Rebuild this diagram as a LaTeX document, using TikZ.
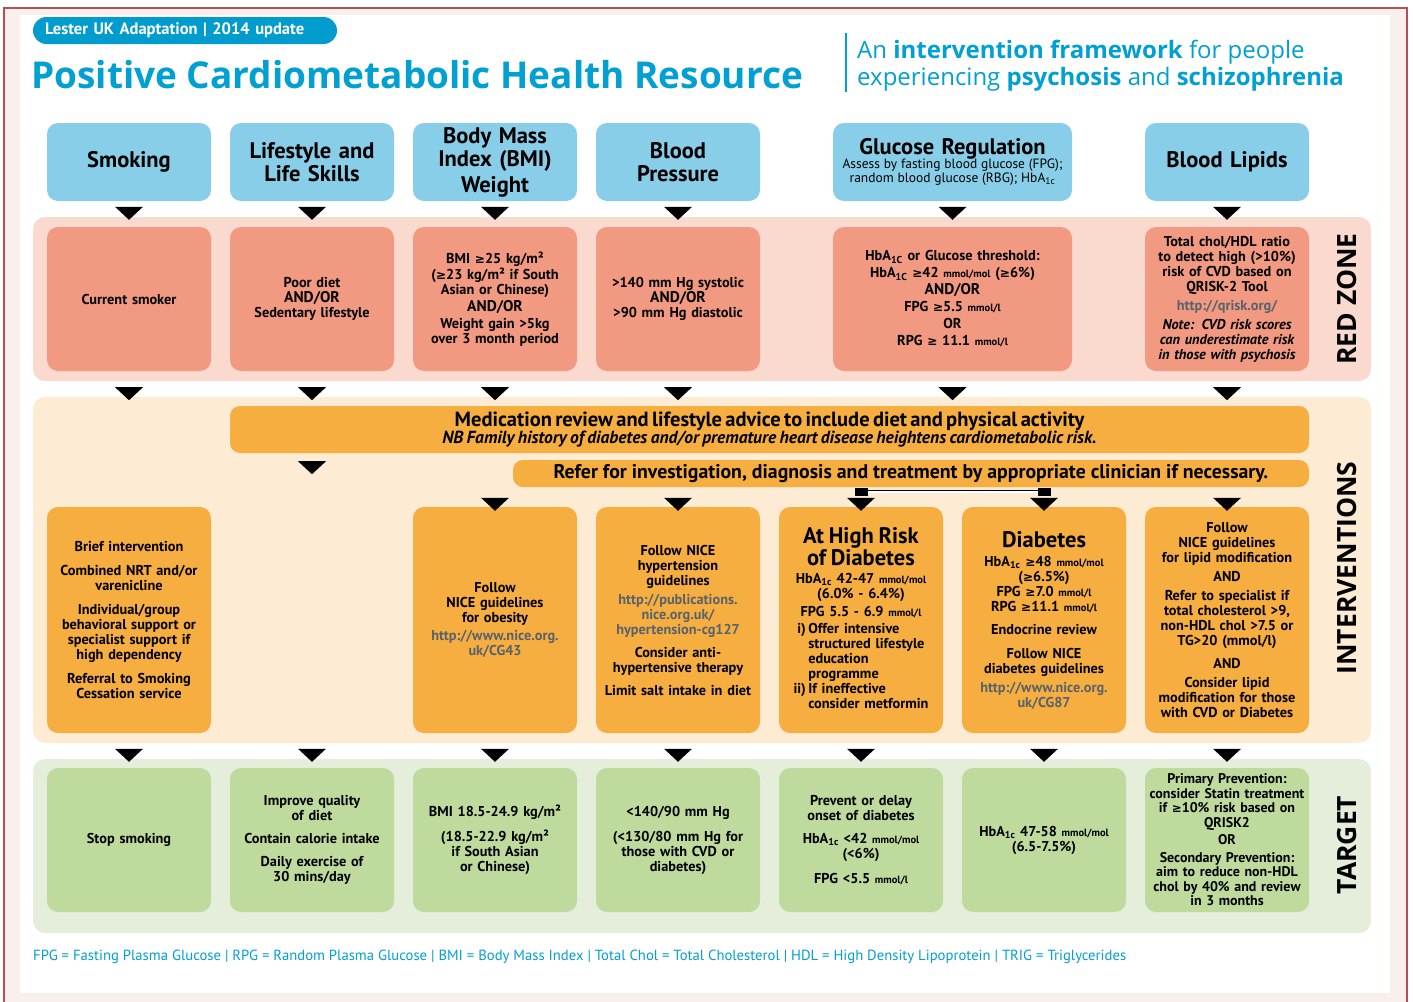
\documentclass[tikz,border=0pt]{standalone}
\usepackage{fontspec}
\setmainfont{PT Sans}
\newfontfamily\titlefont{Open Sans}
\newfontfamily\symfont{DejaVu Sans}
\usetikzlibrary{positioning,calc}

\definecolor{titleblue}{RGB}{0,160,210}
\definecolor{pillblue}{RGB}{0,156,206}
\definecolor{hdblue}{RGB}{136,206,232}
\definecolor{riskband}{RGB}{250,218,206}
\definecolor{riskfill}{RGB}{242,154,129}
\definecolor{actband}{RGB}{253,235,212}
\definecolor{actfill}{RGB}{246,174,64}
\definecolor{goalband}{RGB}{228,238,218}
\definecolor{goalfill}{RGB}{190,219,157}
\definecolor{linkgray}{RGB}{88,98,108}
\definecolor{framered}{RGB}{180,80,85}
\definecolor{framepink}{RGB}{249,239,237}

\newcommand{\hba}[1][1c]{HbA\textsubscript{#1}}
\newcommand{\gte}{{\symfont\scalebox{0.85}{≥}}}
\newcommand{\smu}[1]{{\fontsize{10.5}{11}\selectfont #1}}
\newcommand{\lnk}[1]{{\color{linkgray}#1}}
\newcommand{\andor}{{\fontsize{15.5}{16}\selectfont AND/OR}}
\newcommand{\tri}[1]{\fill (#1) ++(-14,0) -- ++(28,0) -- ++(-14,13) -- cycle;}

\begin{document}
\begin{tikzpicture}[x=1pt,y=-1pt,
    cell/.style={rounded corners=11, minimum width=164, text width=160, inner sep=2,
      align=center, font=\bfseries\fontsize{14.3}{15}\selectfont},
    head/.style={cell, fill=hdblue, minimum height=78, font=\bfseries\fontsize{22.5}{23}\selectfont},
    riskbox/.style={cell, fill=riskfill, minimum height=144},
    actbox/.style={cell, fill=actfill, minimum height=226},
    goalbox/.style={cell, fill=goalfill, minimum height=144},
    bar/.style={fill=actfill, rounded corners=10, inner sep=2, align=center},
    zone/.style={rotate=90, font=\titlefont\bfseries\fontsize{26.5}{26}\selectfont}]
\useasboundingbox (0,0) rectangle (1413,1001);
\fill[white] (0,0) rectangle (1413,1001);
\filldraw[fill=framepink, draw=framered, line width=1.5] (4,8) rectangle (1407,1010);
\fill[white] (20,15) rectangle (1390,993);

\node[fill=pillblue, rounded corners=13.5, minimum width=304, minimum height=27, inner sep=0, text width=280, align=left,
  text=white, font=\bfseries\fontsize{16.5}{17}\selectfont] (tag) at (185,30.5) {Lester UK Adaptation | 2014 update};
\node[anchor=base west, inner sep=0, text=titleblue, font=\titlefont\bfseries\fontsize{37}{37}\selectfont]
  (title) at (31,88) {Positive Cardiometabolic Health Resource};
\draw[titleblue, line width=1.2] (846,33) -- (846,92);
\node[anchor=base west, inner sep=0, text=titleblue, align=left, font=\titlefont\fontsize{24}{27}\selectfont]
  (sub) at (857,85) {An \textbf{intervention framework} for people\\experiencing \textbf{psychosis} and \textbf{schizophrenia}};

\fill[riskband, rounded corners=12] (33,217) rectangle (1371,381);
\fill[actband, rounded corners=12] (33,397) rectangle (1371,743);
\fill[goalband, rounded corners=12] (33,759) rectangle (1371,933);

\node[head] (hSmk) at (129,162) {Smoking};
\node[head] (hLife) at (312,162) {Lifestyle and\\Life Skills};
\node[head] (hBmi) at (495,162) {Body Mass\\Index (BMI)\\[3pt]Weight};
\node[head] (hBp) at (678,162) {Blood\\Pressure};
\node[head, minimum width=239, text width=235] (hGlu) at (952.5,162) {Glucose Regulation\\[-1pt]
  {\mdseries\fontsize{13.5}{14}\selectfont\spaceskip=0.28em\def\arraystretch{0.95}\begin{tabular}{@{}c@{}}Assess by fasting blood glucose (FPG);\\random blood glucose (RBG); \hba\end{tabular}}};
\node[head] (hLip) at (1227,162) {Blood Lipids};

\node[riskbox] (rSmk) at (129,299) {Current smoker};
\node[riskbox] (rLife) at (312,299) {Poor diet\\\andor\\Sedentary lifestyle};
\node[riskbox] (rBmi) at (495,299) {BMI \gte25 kg/m²\\[1pt](\gte23 kg/m² if South\\Asian or Chinese)\\[2pt]\andor\\[2pt]Weight gain >5kg\\over 3 month period};
\node[riskbox] (rBp) at (678,299) {>140 mm Hg systolic\\\andor\\>90 mm Hg diastolic};
\node[riskbox, minimum width=239, text width=235] (rGlu) at (952.5,299) {\hba[1C] or Glucose threshold:\\[2pt]
  \hba[1C] \gte42 \smu{mmol/mol} (\gte6\%)\\[2pt]\andor\\[2pt]FPG \gte5.5 \smu{mmol/l}\\[2pt]OR\\[2pt]RPG \gte{} 11.1 \smu{mmol/l}};
\node[riskbox] (rLip) at (1227,299) {Total chol/HDL ratio\\to detect high (>10\%)\\risk of CVD based on\\QRISK-2 Tool\\[4pt]
  \lnk{http://qrisk.org/}\\[4pt]{\itshape Note: CVD risk scores\\can underestimate risk\\in those with psychosis}};

\node[bar, minimum width=1079, minimum height=47, text width=1075] (adv) at (769.5,429.5)
  {\bfseries\fontsize{20.5}{20}\selectfont Medication review and lifestyle advice to include diet and physical activity\\
  {\itshape\fontsize{17.5}{17}\selectfont NB Family history of diabetes and/or premature heart disease heightens cardiometabolic risk.}};
\node[bar, minimum width=796, minimum height=27, font=\bfseries\fontsize{19.8}{20}\selectfont] (ref) at (911,473.5)
  {Refer for investigation, diagnosis and treatment by appropriate clinician if necessary.};

\node[actbox] (iSmk) at (129,620) {Brief intervention\\[9pt]Combined NRT and/or\\varenicline\\[9pt]Individual/group\\behavioral support or\\
  specialist support if\\high dependency\\[9pt]Referral to Smoking\\Cessation service};
\node[actbox] (iBmi) at (495,620) {Follow\\NICE guidelines\\for obesity\\[3pt]\lnk{http://www.nice.org.\\uk/CG43}};
\node[actbox] (iBp) at (678,620) {Follow NICE\\hypertension\\guidelines\\[4pt]\lnk{http://publications.\\nice.org.uk/\\hypertension-cg127}\\[8pt]
  Consider anti-\\hypertensive therapy\\[8pt]Limit salt intake in diet};
\node[actbox] (iRisk) at (861,620) {{\fontsize{22.5}{22}\selectfont At High Risk\\of Diabetes}\\[3pt]\hba{} 42-47 \smu{mmol/mol}\\(6.0\% - 6.4\%)\\[3pt]
  FPG 5.5 - 6.9 \smu{mmol/l}\\[4pt]
  {\def\arraystretch{1.0}\begin{tabular}{@{}r@{\,}l@{}}i)&Offer intensive\\&structured lifestyle\\&education\\&programme\\
  ii)&If ineffective\\&consider metformin\end{tabular}}};
\node[actbox] (iDia) at (1044,620) {{\fontsize{22.5}{22}\selectfont Diabetes}\\[4pt]\hba{} \gte48 \smu{mmol/mol}\\(\gte6.5\%)\\FPG \gte7.0 \smu{mmol/l}\\
  RPG \gte11.1 \smu{mmol/l}\\[8pt]Endocrine review\\[9pt]Follow NICE\\diabetes guidelines\\[4pt]\lnk{http://www.nice.org.\\uk/CG87}};
\node[actbox] (iLip) at (1227,620) {Follow\\NICE guidelines\\for lipid modification\\[4pt]AND\\[4pt]Refer to specialist if\\total cholesterol >9,\\
  non-HDL chol >7.5 or\\TG>20 (mmol/l)\\[8pt]AND\\[4pt]Consider lipid\\modification for those\\with CVD or Diabetes};

\node[goalbox] (gSmk) at (129,840) {Stop smoking};
\node[goalbox] (gLife) at (312,840) {Improve quality\\of diet\\[8pt]Contain calorie intake\\[8pt]Daily exercise of\\30 mins/day};
\node[goalbox] (gBmi) at (495,840) {BMI 18.5-24.9 kg/m²\\[10pt](18.5-22.9 kg/m²\\if South Asian\\or Chinese)};
\node[goalbox] (gBp) at (678,840) {<140/90 mm Hg\\[10pt](<130/80 mm Hg for\\those with CVD or\\diabetes)};
\node[goalbox] (gRisk) at (861,840) {Prevent or delay\\onset of diabetes\\[8pt]\hba{} <42 \smu{mmol/mol}\\(<6\%)\\[10pt]FPG <5.5 \smu{mmol/l}};
\node[goalbox] (gDia) at (1044,840) {\hba{} 47-58 \smu{mmol/mol}\\(6.5-7.5\%)};
\node[goalbox, inner sep=0, text width=164, font=\bfseries\fontsize{14}{14.5}\selectfont] (gLip) at (1227,840) {Primary Prevention:\\consider Statin treatment\\if \gte10\% risk based on\\QRISK2\\[3pt]OR\\[3pt]
  Secondary Prevention:\\aim to reduce non-HDL\\chol by 40\% and review\\in 3 months};

\node[zone] (zRed) at (1347,299) {RED ZONE};
\node[zone] (zAct) at (1347,568) {INTERVENTIONS};
\node[zone] (zGoal) at (1347,845) {TARGET};

\foreach \n in {Smk,Life,Bmi,Bp,Glu,Lip} {\tri{$(r\n.north)+(0,-20)$}}
\foreach \n in {Smk,Life,Bmi,Bp,Glu,Lip} {\tri{$(r\n.south)+(0,16)$}}
\tri{$(hLife |- adv.south)+(0,8)$}
\foreach \n in {Bmi,Bp,Risk,Dia,Lip} {\tri{$(i\n.north)+(0,-9)$}}
\foreach \n in {Smk,Life,Bmi,Bp,Risk,Dia,Lip} {\tri{$(g\n.north)+(0,-19)$}}
\fill ($(iRisk.north)+(-6.5,-19)$) rectangle ++(13,8);
\fill ($(iDia.north)+(-6.5,-19)$) rectangle ++(13,8);
\draw[double, double distance=1.4, line width=0.7] ($(iRisk.north)+(6.5,-15)$) -- ($(iDia.north)+(-6.5,-15)$);

\node[anchor=base west, inner sep=0, text=titleblue, font=\fontsize{14.7}{15}\selectfont] (key) at (33,960)
  {FPG = Fasting Plasma Glucose | RPG = Random Plasma Glucose | BMI = Body Mass Index | Total Chol = Total Cholesterol | HDL = High Density Lipoprotein | TRIG = Triglycerides};
\end{tikzpicture}
\end{document}
